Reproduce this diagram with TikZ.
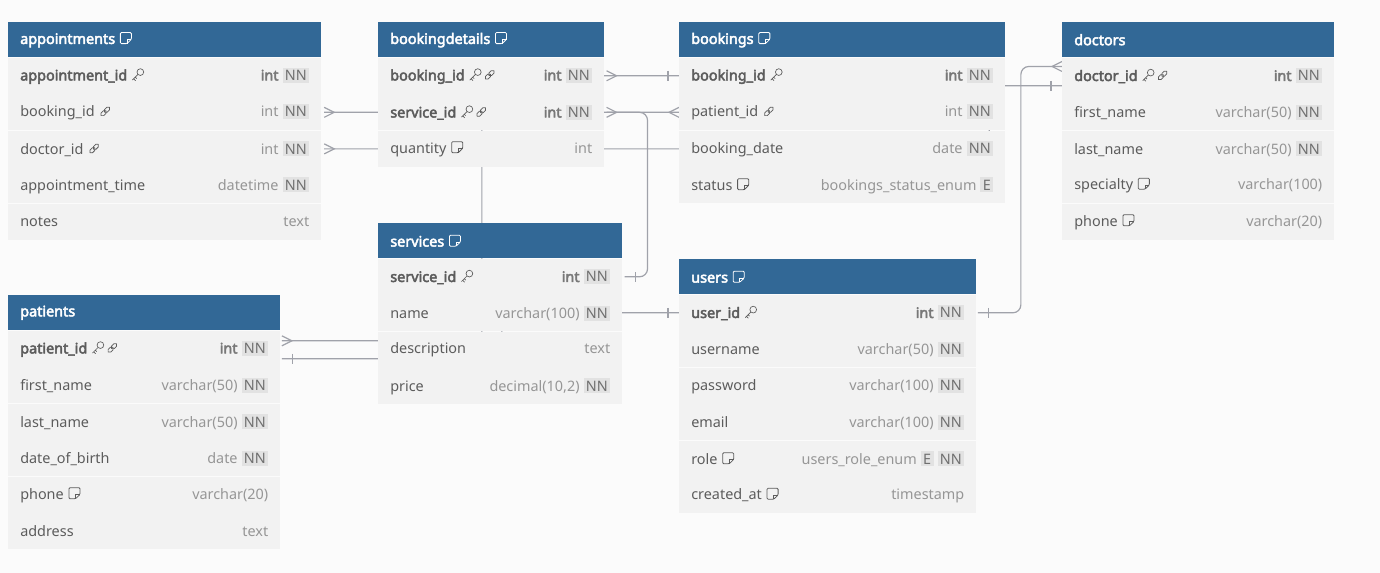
\documentclass[tikz,border=0pt]{standalone}
\usepackage{fontspec}
\setmainfont{Noto Sans}[AutoFakeBold=3.2]
\usetikzlibrary{positioning, decorations.markings}

\definecolor{headblue}{RGB}{50, 104, 150}
\definecolor{rowbg}{RGB}{242, 242, 242}
\definecolor{pagebg}{RGB}{251, 251, 251}
\definecolor{fieldgray}{RGB}{92, 92, 92}
\definecolor{typegray}{RGB}{150, 150, 150}
\definecolor{badgebg}{RGB}{226, 226, 226}
\definecolor{badgetext}{RGB}{112, 112, 112}
\definecolor{linegray}{RGB}{160, 162, 170}

\pgfdeclarelayer{background}
\pgfsetlayers{background,main}

% little icons
\newcommand{\keyic}{\tikz[x=1.2pt,y=1.2pt,baseline=0pt,line width=0.5pt]{\draw[fieldgray] (5.4,5.2) circle (2.1) (3.9,3.7) -- (0.4,0.2) (1.2,1.0) -- (2.4,-0.2) (2.2,2.0) -- (3.1,1.1);}}
\newcommand{\linkic}{\tikz[x=1.15pt,y=1.15pt,baseline=0pt,line width=0.55pt]{\draw[fieldgray,rounded corners=1.3pt,rotate around={45:(3.6,3.6)}] (-0.2,2.4) rectangle (4.2,4.8) (3,2.4) rectangle (7.4,4.8);}}
\newcommand{\noteic}[1][fieldgray]{\tikz[x=1.15pt,y=1.15pt,baseline=0pt,line width=0.6pt]{\draw[#1,rounded corners=0.8pt] (0,0.2) -- (0,7.4) -- (7.2,7.4) -- (7.2,3) -- (4.3,0.2) -- cycle; \draw[#1] (4.3,0.2) -- (4.3,3) -- (7.2,3);}}

\setlength{\fboxsep}{1.8pt}
\newcommand{\nnbadge}{\hspace{3pt}\colorbox{badgebg}{\textcolor{badgetext}{NN}}}
\newcommand{\enumbadge}{\hspace{3pt}\colorbox{badgebg}{\textcolor{badgetext}{E}}}
\newcommand{\ty}[1]{\textcolor{typegray}{#1}}
\newcommand{\pkty}[1]{\textbf{\textcolor{typegray!80!black}{#1}}}

\begin{document}
\begin{tikzpicture}[x=0.75pt, y=-0.75pt,
  tabhead/.style={fill=headblue, anchor=north west, minimum height=26.25pt, text width=#1, inner xsep=9pt, inner ysep=0pt, text=white, font=\bfseries\fontsize{10.8}{12}\selectfont, align=left},
  tabrow/.style={fill=rowbg, minimum height=27pt, text width=#1, inner xsep=9pt, inner ysep=0pt, text=fieldgray, font=\fontsize{10.8}{12}\selectfont, align=left},
  conn/.style={draw=linegray, line width=0.9pt, rounded corners=6pt},
  manystart/.style={postaction={decorate, decoration={markings, mark=at position 0 with {\draw[linegray, line width=0.9pt, sharp corners] (0,-5) -- (10,0) -- (0,5);}}}},
  manyend/.style={postaction={decorate, decoration={markings, mark=at position 1 with {\draw[linegray, line width=0.9pt, sharp corners] (0,-5) -- (-10,0) -- (0,5);}}}},
  onestart/.style={postaction={decorate, decoration={markings, mark=at position 0 with {\draw[linegray, line width=0.9pt] (11,-5) -- (11,5);}}}},
  oneend/.style={postaction={decorate, decoration={markings, mark=at position 1 with {\draw[linegray, line width=0.9pt] (-11,-5) -- (-11,5);}}}}]

  % appointments
  \node[tabhead=216.75pt] (appt) at (8,22) {appointments \noteic[white]};
  \node[tabrow=216.75pt, below=0pt of appt] (appt-id) {\textbf{appointment\_id} \keyic\hfill\pkty{int}\nnbadge};
  \node[tabrow=216.75pt, below=0pt of appt-id] (appt-book) {booking\_id \linkic\hfill\ty{int}\nnbadge};
  \node[tabrow=216.75pt, below=0pt of appt-book] (appt-doc) {doctor\_id \linkic\hfill\ty{int}\nnbadge};
  \node[tabrow=216.75pt, below=0pt of appt-doc] (appt-time) {appointment\_time\hfill\ty{datetime}\nnbadge};
  \node[tabrow=216.75pt, below=0pt of appt-time] (appt-notes) {notes\hfill\ty{text}};

  % bookingdetails
  \node[tabhead=151.5pt] (bd) at (378,22) {bookingdetails \noteic[white]};
  \node[tabrow=151.5pt, below=0pt of bd] (bd-book) {\textbf{booking\_id} \keyic\,\linkic\hfill\pkty{int}\nnbadge};
  \node[tabrow=151.5pt, below=0pt of bd-book] (bd-serv) {\textbf{service\_id} \keyic\,\linkic\hfill\pkty{int}\nnbadge};
  \node[tabrow=151.5pt, below=0pt of bd-serv] (bd-qty) {quantity \noteic\hfill\ty{int}};

  % bookings
  \node[tabhead=226.5pt] (bk) at (679,22) {bookings \noteic[white]};
  \node[tabrow=226.5pt, below=0pt of bk] (bk-book) {\textbf{booking\_id} \keyic\hfill\pkty{int}\nnbadge};
  \node[tabrow=226.5pt, below=0pt of bk-book] (bk-pat) {patient\_id \linkic\hfill\ty{int}\nnbadge};
  \node[tabrow=226.5pt, below=0pt of bk-pat] (bk-date) {booking\_date\hfill\ty{date}\nnbadge};
  \node[tabrow=226.5pt, below=0pt of bk-date] (bk-status) {status \noteic\hfill\ty{bookings\_status\_enum}\enumbadge};

  % doctors
  \node[tabhead=186pt] (doc) at (1062,22) {doctors};
  \node[tabrow=186pt, below=0pt of doc] (doc-id) {\textbf{doctor\_id} \keyic\,\linkic\hfill\pkty{int}\nnbadge};
  \node[tabrow=186pt, below=0pt of doc-id] (doc-first) {first\_name\hfill\ty{varchar(50)}\nnbadge};
  \node[tabrow=186pt, below=0pt of doc-first] (doc-last) {last\_name\hfill\ty{varchar(50)}\nnbadge};
  \node[tabrow=186pt, below=0pt of doc-last] (doc-spec) {specialty \noteic\hfill\ty{varchar(100)}};
  \node[tabrow=186pt, below=0pt of doc-spec] (doc-phone) {phone \noteic\hfill\ty{varchar(20)}};

  % services
  \node[tabhead=165pt] (sv) at (378,223) {services \noteic[white]};
  \node[tabrow=165pt, below=0pt of sv] (sv-id) {\textbf{service\_id} \keyic\hfill\pkty{int}\nnbadge};
  \node[tabrow=165pt, below=0pt of sv-id] (sv-name) {name\hfill\ty{varchar(100)}\nnbadge};
  \node[tabrow=165pt, below=0pt of sv-name] (sv-desc) {description\hfill\ty{text}};
  \node[tabrow=165pt, below=0pt of sv-desc] (sv-price) {price\hfill\ty{decimal(10,2)}\nnbadge};

  % users
  \node[tabhead=204.75pt] (us) at (679,259) {users \noteic[white]};
  \node[tabrow=204.75pt, below=0pt of us] (us-id) {\textbf{user\_id} \keyic\hfill\pkty{int}\nnbadge};
  \node[tabrow=204.75pt, below=0pt of us-id] (us-name) {username\hfill\ty{varchar(50)}\nnbadge};
  \node[tabrow=204.75pt, below=0pt of us-name] (us-pass) {password\hfill\ty{varchar(100)}\nnbadge};
  \node[tabrow=204.75pt, below=0pt of us-pass] (us-mail) {email\hfill\ty{varchar(100)}\nnbadge};
  \node[tabrow=204.75pt, below=0pt of us-mail] (us-role) {role \noteic\hfill\ty{users\_role\_enum}\enumbadge\nnbadge};
  \node[tabrow=204.75pt, below=0pt of us-role] (us-created) {created\_at \noteic\hfill\ty{timestamp}};

  % patients
  \node[tabhead=186pt] (pt) at (8,295) {patients};
  \node[tabrow=186pt, below=0pt of pt] (pt-id) {\textbf{patient\_id} \keyic\,\linkic\hfill\pkty{int}\nnbadge};
  \node[tabrow=186pt, below=0pt of pt-id] (pt-first) {first\_name\hfill\ty{varchar(50)}\nnbadge};
  \node[tabrow=186pt, below=0pt of pt-first] (pt-last) {last\_name\hfill\ty{varchar(50)}\nnbadge};
  \node[tabrow=186pt, below=0pt of pt-last] (pt-dob) {date\_of\_birth\hfill\ty{date}\nnbadge};
  \node[tabrow=186pt, below=0pt of pt-dob] (pt-phone) {phone \noteic\hfill\ty{varchar(20)}};
  \node[tabrow=186pt, below=0pt of pt-phone] (pt-addr) {address\hfill\ty{text}};

  % relations, behind the tables
  \begin{pgfonlayer}{background}
    \fill[pagebg] (0,0) rectangle (1380,573);
    \draw[conn, manystart, oneend] ([xshift=1.5pt]bd-book.east) -- (bk-book.west);
    \draw[conn, manystart, oneend] ([xshift=1.5pt]bd-serv.east) -- ++(41,0) |- ([xshift=1.5pt]sv-id.east);
    \draw[conn, manystart, oneend] ([xshift=2pt]appt-book.east) -- ++(230,0) |- (bk-book.west);
    \draw[conn, manystart, oneend] ([xshift=2pt]appt-doc.east) -- ++(665,0) |- ([yshift=-7.5pt]doc-id.west);
    \draw[conn, onestart, manyend] ([xshift=1pt, yshift=-7.5pt]pt-id.east) -- ++(200,0) |- (bk-pat.west);
    \draw[conn, manystart, oneend] ([xshift=1pt, yshift=6pt]pt-id.east) -- ++(220,0) |- (us-id.west);
    \draw[conn, onestart, manyend] ([xshift=1pt]us-id.east) -- ++(43,0) |- ([yshift=7pt]doc-id.west);
  \end{pgfonlayer}
\end{tikzpicture}
\end{document}
